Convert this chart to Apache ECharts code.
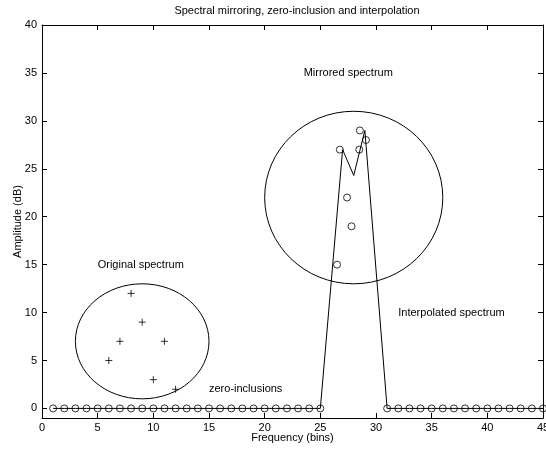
<!DOCTYPE html>
<html>
<head>
<meta charset="utf-8">
<script src="https://cdn.jsdelivr.net/npm/echarts@6/dist/echarts.min.js"></script>
<style>
  html, body { margin: 0; padding: 0; background: #fff; }
  #chart { width: 546px; height: 452px; }
</style>
</head>
<body>
<div id="chart"></div>
<script>
// axis ticks
const xTicks = [0, 5, 10, 15, 20, 25, 30, 35, 40, 45];
const yTicks = [0, 5, 10, 15, 20, 25, 30, 35, 40];

// original spectrum (+ markers)
const origX = [6, 7, 8, 9, 10, 11, 12];
const origY = [5, 7, 12, 9, 3, 7, 2];

// mirrored spectrum (o markers)
const mirrX = [26.5, 26.75, 27.4, 27.8, 28.5, 28.55, 29.1];
const mirrY = [15, 27, 22, 19, 27, 29, 28];

// zero-inclusion bins (o markers at 0)
const zeroX = [1, 2, 3, 4, 5, 6, 7, 8, 9, 10, 11, 12, 13, 14, 15, 16, 17, 18, 19, 20, 21, 22, 23, 24, 25,
               31, 32, 33, 34, 35, 36, 37, 38, 39, 40, 41, 42, 43, 44, 45];

// interpolated spectrum line
const interpX = [1, 2, 3, 4, 5, 6, 7, 8, 9, 10, 11, 12, 13, 14, 15, 16, 17, 18, 19, 20, 21, 22, 23, 24, 25,
                 27, 28, 29,
                 31, 32, 33, 34, 35, 36, 37, 38, 39, 40, 41, 42, 43, 44, 45];
const interpY = [0, 0, 0, 0, 0, 0, 0, 0, 0, 0, 0, 0, 0, 0, 0, 0, 0, 0, 0, 0, 0, 0, 0, 0, 0,
                 27, 24.3, 29,
                 0, 0, 0, 0, 0, 0, 0, 0, 0, 0, 0, 0, 0, 0, 0];

// encircling ellipses: centre x, centre y, radius x, radius y (data units)
const ringX = [9, 28];
const ringY = [7, 22];
const ringRx = [6, 8];
const ringRy = [6, 9];

// annotations
const noteText = ['Original spectrum', 'Mirrored spectrum', 'Interpolated spectrum', 'zero-inclusions'];
const noteX = [5, 23.5, 32, 15];
const noteY = [15, 35, 10, 2];

const FONT = 'Liberation Sans, Arial, sans-serif';
const BLACK = '#000';

const chart = echarts.init(document.getElementById('chart'), null, { renderer: 'canvas' });

const baseX = {
  type: 'value',
  min: 0,
  max: 45,
  interval: 5,
  splitLine: { show: false },
  axisLine: { onZero: false, lineStyle: { color: BLACK, width: 1 } },
  axisTick: { inside: true, length: 5, lineStyle: { color: BLACK } }
};
const baseY = {
  type: 'value',
  min: -1,
  max: 40,
  splitLine: { show: false },
  axisLine: { onZero: false, lineStyle: { color: BLACK, width: 1 } },
  axisTick: { inside: true, length: 5, customValues: yTicks, lineStyle: { color: BLACK } }
};

const zip = (a, b) => a.map((v, i) => [v, b[i]]);

chart.setOption({
  animation: false,
  backgroundColor: '#fff',
  title: {
    text: 'Spectral mirroring, zero-inclusion and interpolation',
    left: 292,
    textAlign: 'center',
    top: 0,
    textStyle: { fontFamily: FONT, fontSize: 11, fontWeight: 'normal', color: BLACK }
  },
  grid: { left: 42, right: 3, top: 25, bottom: 34, outerBoundsMode: 'none', containLabel: false },
  xAxis: [
    Object.assign({}, baseX, {
      position: 'bottom',
      name: 'Frequency (bins)',
      nameLocation: 'middle',
      nameGap: 14,
      nameMoveOverlap: false,
      nameTextStyle: { fontFamily: FONT, fontSize: 11, color: BLACK },
      axisLabel: { margin: 4, fontFamily: FONT, fontSize: 11, color: BLACK,
                   customValues: xTicks, showMaxLabel: true }
    }),
    Object.assign({}, baseX, { position: 'top', axisLabel: { show: false } })
  ],
  yAxis: [
    Object.assign({}, baseY, {
      position: 'left',
      name: 'Amplitude (dB)',
      nameLocation: 'middle',
      nameGap: 19,
      nameMoveOverlap: false,
      nameTextStyle: { fontFamily: FONT, fontSize: 11, color: BLACK },
      axisLabel: { margin: 5, fontFamily: FONT, fontSize: 11, color: BLACK, customValues: yTicks }
    }),
    Object.assign({}, baseY, { position: 'right', axisLabel: { show: false } })
  ],
  series: [
    {
      type: 'line',
      data: zip(interpX, interpY),
      showSymbol: false,
      symbol: 'none',
      lineStyle: { color: BLACK, width: 1 },
      z: 2
    },
    {
      type: 'scatter',
      data: zip(zeroX, zeroX.map(() => 0)),
      symbol: 'circle',
      symbolSize: 7,
      itemStyle: { color: 'transparent', borderColor: BLACK, borderWidth: 1 },
      z: 3
    },
    {
      type: 'scatter',
      data: zip(mirrX, mirrY),
      symbol: 'circle',
      symbolSize: 7,
      itemStyle: { color: 'transparent', borderColor: BLACK, borderWidth: 1 },
      z: 3
    },
    {
      type: 'scatter',
      data: zip(origX, origY),
      symbol: 'path://M5,0L5,10M0,5L10,5',
      symbolSize: 7,
      itemStyle: { color: 'none', borderColor: BLACK, borderWidth: 1 },
      z: 3
    },
    {
      type: 'custom',
      data: ringX.map((x, i) => [x, ringY[i], ringRx[i], ringRy[i]]),
      renderItem: function (params, api) {
        const c = api.coord([api.value(0), api.value(1)]);
        const s = api.size([api.value(2), api.value(3)]);
        return {
          type: 'ellipse',
          shape: { cx: c[0], cy: c[1], rx: s[0], ry: s[1] },
          style: { fill: 'none', stroke: BLACK, lineWidth: 1 }
        };
      },
      z: 2
    },
    {
      type: 'custom',
      data: noteX.map((x, i) => [x, noteY[i], i]),
      renderItem: function (params, api) {
        const c = api.coord([api.value(0), api.value(1)]);
        return {
          type: 'text',
          style: {
            x: c[0], y: c[1],
            text: noteText[api.value(2)],
            fill: BLACK,
            font: '11px ' + FONT,
            textAlign: 'left',
            textVerticalAlign: 'middle'
          }
        };
      },
      z: 4
    }
  ]
});
</script>
</body>
</html>
